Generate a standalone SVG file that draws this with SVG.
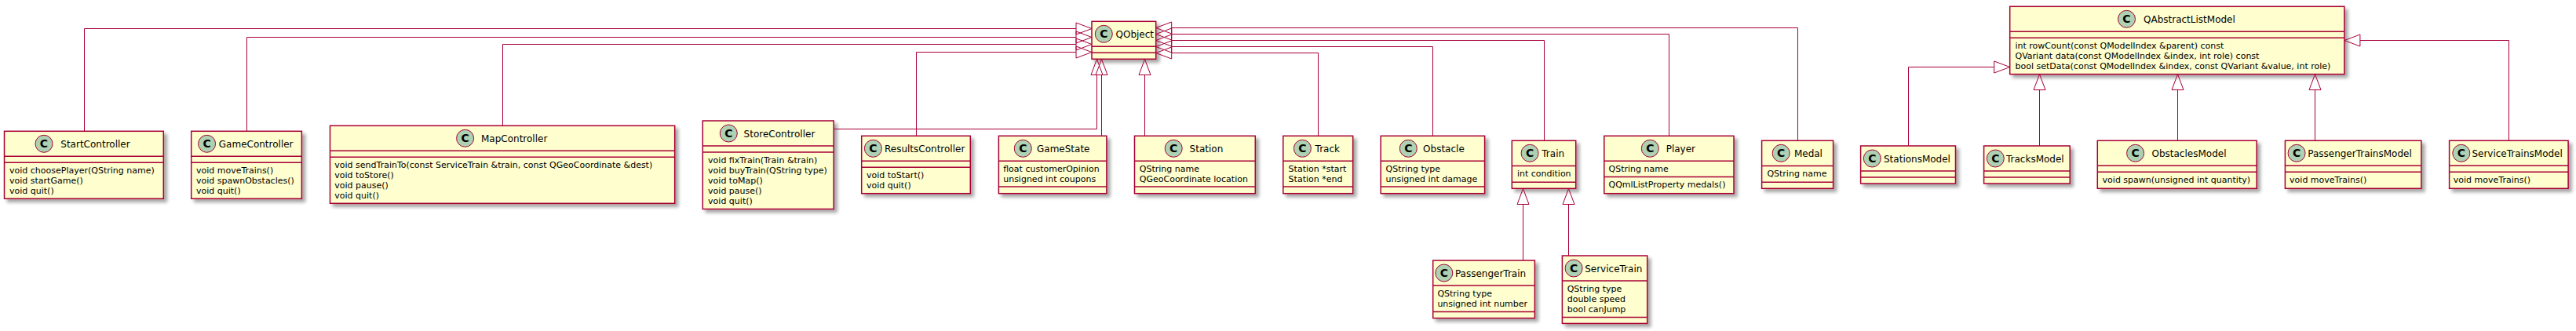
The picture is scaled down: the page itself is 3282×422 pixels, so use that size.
<svg xmlns="http://www.w3.org/2000/svg" width="3282" height="422" viewBox="0 0 3282 422">
<defs>
<filter id="sh" x="-10%" y="-10%" width="130%" height="140%">
<feGaussianBlur in="SourceAlpha" stdDeviation="2"/>
<feOffset dx="4" dy="4" result="b"/>
<feComponentTransfer><feFuncA type="linear" slope="0.35"/></feComponentTransfer>
<feMerge><feMergeNode/><feMergeNode in="SourceGraphic"/></feMerge>
</filter>
</defs>
<style>
.box{fill:#FEFECE;stroke:#A80036;stroke-width:1.5;filter:url(#sh)}
.dv{stroke:#A80036;stroke-width:1.5}
.ci{fill:#ADD1B2;stroke:#A80036;stroke-width:1}
.cl{font-family:'DejaVu Sans',sans-serif;font-weight:bold;font-size:14px;text-anchor:middle;fill:#000}
.t{font-family:'DejaVu Sans',sans-serif;font-size:12px;fill:#000}
.m{font-family:'DejaVu Sans',sans-serif;font-size:11px;fill:#000}
.ln{fill:none;stroke:#A80036;stroke-width:1}
.hd{fill:none;stroke:#A80036;stroke-width:1}
</style>
<rect width="3282" height="422" fill="#FFFFFF"/>

<g id="StartController">
<rect class="box" x="5.5" y="167.3" width="202.8" height="86"/>
<line class="dv" x1="5.5" y1="199.3" x2="208.3" y2="199.3"/>
<line class="dv" x1="5.5" y1="207.3" x2="208.3" y2="207.3"/>
<circle class="ci" cx="56" cy="183.3" r="11"/>
<text class="cl" x="56" y="188.3">C</text>
<text class="t" x="77.3" y="188.3">StartController</text>
<text class="m" x="12" y="220.9">void choosePlayer(QString name)</text>
<text class="m" x="12" y="233.9">void startGame()</text>
<text class="m" x="12" y="246.9">void quit()</text>
</g>

<g id="GameController">
<rect class="box" x="243.7" y="167.3" width="140.7" height="86"/>
<line class="dv" x1="243.7" y1="199.3" x2="384.4" y2="199.3"/>
<line class="dv" x1="243.7" y1="207.3" x2="384.4" y2="207.3"/>
<circle class="ci" cx="263.6" cy="183.3" r="11"/>
<text class="cl" x="263.6" y="188.3">C</text>
<text class="t" x="278.8" y="188.3">GameController</text>
<text class="m" x="250" y="220.9">void moveTrains()</text>
<text class="m" x="250" y="233.9">void spawnObstacles()</text>
<text class="m" x="250" y="246.9">void quit()</text>
</g>

<g id="MapController">
<rect class="box" x="420.5" y="160.3" width="439.2" height="99"/>
<line class="dv" x1="420.5" y1="192.3" x2="859.7" y2="192.3"/>
<line class="dv" x1="420.5" y1="200.3" x2="859.7" y2="200.3"/>
<circle class="ci" cx="592.6" cy="176.3" r="11"/>
<text class="cl" x="592.6" y="181.3">C</text>
<text class="t" x="613" y="181.3">MapController</text>
<text class="m" x="426.3" y="213.9">void sendTrainTo(const ServiceTrain &amp;train, const QGeoCoordinate &amp;dest)</text>
<text class="m" x="426.3" y="226.9">void toStore()</text>
<text class="m" x="426.3" y="239.9">void pause()</text>
<text class="m" x="426.3" y="252.9">void quit()</text>
</g>

<g id="StoreController">
<rect class="box" x="895.3" y="154" width="166.9" height="112.5"/>
<line class="dv" x1="895.3" y1="186" x2="1062.2" y2="186"/>
<line class="dv" x1="895.3" y1="194" x2="1062.2" y2="194"/>
<circle class="ci" cx="928.3" cy="170" r="11"/>
<text class="cl" x="928.3" y="175">C</text>
<text class="t" x="947.6" y="175">StoreController</text>
<text class="m" x="902.1" y="207.6">void fixTrain(Train &amp;train)</text>
<text class="m" x="902.1" y="220.6">void buyTrain(QString type)</text>
<text class="m" x="902.1" y="233.6">void toMap()</text>
<text class="m" x="902.1" y="246.6">void pause()</text>
<text class="m" x="902.1" y="259.6">void quit()</text>
</g>

<g id="ResultsController">
<rect class="box" x="1097.7" y="173.3" width="138.6" height="73.4"/>
<line class="dv" x1="1097.7" y1="205.3" x2="1236.3" y2="205.3"/>
<line class="dv" x1="1097.7" y1="213.3" x2="1236.3" y2="213.3"/>
<circle class="ci" cx="1112.4" cy="189.3" r="11"/>
<text class="cl" x="1112.4" y="194.3">C</text>
<text class="t" x="1127" y="194.3">ResultsController</text>
<text class="m" x="1104" y="226.9">void toStart()</text>
<text class="m" x="1104" y="239.9">void quit()</text>
</g>

<g id="GameState">
<rect class="box" x="1272.4" y="173.3" width="137.5" height="73.4"/>
<line class="dv" x1="1272.4" y1="205.3" x2="1409.9" y2="205.3"/>
<line class="dv" x1="1272.4" y1="237.9" x2="1409.9" y2="237.9"/>
<circle class="ci" cx="1303.3" cy="189.3" r="11"/>
<text class="cl" x="1303.3" y="194.3">C</text>
<text class="t" x="1321" y="194.3">GameState</text>
<text class="m" x="1278.2" y="218.9">float customerOpinion</text>
<text class="m" x="1278.2" y="231.9">unsigned int coupons</text>
</g>

<g id="Station">
<rect class="box" x="1445.5" y="173.3" width="153.8" height="73.4"/>
<line class="dv" x1="1445.5" y1="205.3" x2="1599.3" y2="205.3"/>
<line class="dv" x1="1445.5" y1="237.9" x2="1599.3" y2="237.9"/>
<circle class="ci" cx="1495.2" cy="189.3" r="11"/>
<text class="cl" x="1495.2" y="194.3">C</text>
<text class="t" x="1515.6" y="194.3">Station</text>
<text class="m" x="1451.8" y="218.9">QString name</text>
<text class="m" x="1451.8" y="231.9">QGeoCoordinate location</text>
</g>

<g id="Track">
<rect class="box" x="1634.8" y="173.3" width="88.9" height="73.4"/>
<line class="dv" x1="1634.8" y1="205.3" x2="1723.7" y2="205.3"/>
<line class="dv" x1="1634.8" y1="237.9" x2="1723.7" y2="237.9"/>
<circle class="ci" cx="1659.4" cy="189.3" r="11"/>
<text class="cl" x="1659.4" y="194.3">C</text>
<text class="t" x="1675.6" y="194.3">Track</text>
<text class="m" x="1641.6" y="218.9">Station *start</text>
<text class="m" x="1641.6" y="231.9">Station *end</text>
</g>

<g id="Obstacle">
<rect class="box" x="1759.2" y="173.3" width="132.4" height="73.4"/>
<line class="dv" x1="1759.2" y1="205.3" x2="1891.6" y2="205.3"/>
<line class="dv" x1="1759.2" y1="237.9" x2="1891.6" y2="237.9"/>
<circle class="ci" cx="1794.3" cy="189.3" r="11"/>
<text class="cl" x="1794.3" y="194.3">C</text>
<text class="t" x="1813.1" y="194.3">Obstacle</text>
<text class="m" x="1765.5" y="218.9">QString type</text>
<text class="m" x="1765.5" y="231.9">unsigned int damage</text>
</g>

<g id="Train">
<rect class="box" x="1926.3" y="179.3" width="81.4" height="61"/>
<line class="dv" x1="1926.3" y1="211.6" x2="2007.7" y2="211.6"/>
<line class="dv" x1="1926.3" y1="232.3" x2="2007.7" y2="232.3"/>
<circle class="ci" cx="1949.1" cy="195.3" r="11"/>
<text class="cl" x="1949.1" y="200.3">C</text>
<text class="t" x="1964.3" y="200.3">Train</text>
<text class="m" x="1932.9" y="225.3">int condition</text>
</g>

<g id="Player">
<rect class="box" x="2043.8" y="173.3" width="165.2" height="73.4"/>
<line class="dv" x1="2043.8" y1="205.3" x2="2209" y2="205.3"/>
<line class="dv" x1="2043.8" y1="225.6" x2="2209" y2="225.6"/>
<circle class="ci" cx="2102.3" cy="189.3" r="11"/>
<text class="cl" x="2102.3" y="194.3">C</text>
<text class="t" x="2122.7" y="194.3">Player</text>
<text class="m" x="2049.5" y="218.9">QString name</text>
<text class="m" x="2049.5" y="239.2">QQmlListProperty medals()</text>
</g>

<g id="Medal">
<rect class="box" x="2244.6" y="179.3" width="91" height="61"/>
<line class="dv" x1="2244.6" y1="211.6" x2="2335.6" y2="211.6"/>
<line class="dv" x1="2244.6" y1="232.3" x2="2335.6" y2="232.3"/>
<circle class="ci" cx="2269.2" cy="195.3" r="11"/>
<text class="cl" x="2269.2" y="200.3">C</text>
<text class="t" x="2285.9" y="200.3">Medal</text>
<text class="m" x="2251.4" y="225.3">QString name</text>
</g>

<g id="PassengerTrain">
<rect class="box" x="1825.7" y="332" width="129.7" height="73.6"/>
<line class="dv" x1="1825.7" y1="364" x2="1955.4" y2="364"/>
<line class="dv" x1="1825.7" y1="397.4" x2="1955.4" y2="397.4"/>
<circle class="ci" cx="1839.8" cy="348" r="11"/>
<text class="cl" x="1839.8" y="353">C</text>
<text class="t" x="1853.9" y="353">PassengerTrain</text>
<text class="m" x="1831.4" y="377.6">QString type</text>
<text class="m" x="1831.4" y="390.6">unsigned int number</text>
</g>

<g id="ServiceTrain">
<rect class="box" x="1990.4" y="326" width="108.3" height="86.4"/>
<line class="dv" x1="1990.4" y1="358" x2="2098.7" y2="358"/>
<line class="dv" x1="1990.4" y1="404.4" x2="2098.7" y2="404.4"/>
<circle class="ci" cx="2005.1" cy="342" r="11"/>
<text class="cl" x="2005.1" y="347">C</text>
<text class="t" x="2019.2" y="347">ServiceTrain</text>
<text class="m" x="1996.7" y="371.6">QString type</text>
<text class="m" x="1996.7" y="384.6">double speed</text>
<text class="m" x="1996.7" y="397.6">bool canJump</text>
</g>

<g id="QObject">
<rect class="box" x="1391" y="27.3" width="81.7" height="48"/>
<line class="dv" x1="1391" y1="59.3" x2="1472.7" y2="59.3"/>
<line class="dv" x1="1391" y1="67.3" x2="1472.7" y2="67.3"/>
<circle class="ci" cx="1406.3" cy="43.3" r="11"/>
<text class="cl" x="1406.3" y="48.3">C</text>
<text class="t" x="1421.5" y="48.3">QObject</text>
</g>

<g id="QAbstractListModel">
<rect class="box" x="2560.7" y="8.3" width="426.2" height="86.3"/>
<line class="dv" x1="2560.7" y1="40.3" x2="2986.9" y2="40.3"/>
<line class="dv" x1="2560.7" y1="48.3" x2="2986.9" y2="48.3"/>
<circle class="ci" cx="2709.5" cy="24.3" r="11"/>
<text class="cl" x="2709.5" y="29.3">C</text>
<text class="t" x="2731" y="29.3">QAbstractListModel</text>
<text class="m" x="2567.5" y="61.9">int rowCount(const QModelIndex &amp;parent) const</text>
<text class="m" x="2567.5" y="74.9">QVariant data(const QModelIndex &amp;index, int role) const</text>
<text class="m" x="2567.5" y="87.9">bool setData(const QModelIndex &amp;index, const QVariant &amp;value, int role)</text>
</g>

<g id="StationsModel">
<rect class="box" x="2370.6" y="186" width="120.9" height="48"/>
<line class="dv" x1="2370.6" y1="218" x2="2491.5" y2="218"/>
<line class="dv" x1="2370.6" y1="226" x2="2491.5" y2="226"/>
<circle class="ci" cx="2385.3" cy="202" r="11"/>
<text class="cl" x="2385.3" y="207">C</text>
<text class="t" x="2400" y="207">StationsModel</text>
</g>

<g id="TracksModel">
<rect class="box" x="2527.6" y="186" width="109.6" height="48"/>
<line class="dv" x1="2527.6" y1="218" x2="2637.2" y2="218"/>
<line class="dv" x1="2527.6" y1="226" x2="2637.2" y2="226"/>
<circle class="ci" cx="2542.3" cy="202" r="11"/>
<text class="cl" x="2542.3" y="207">C</text>
<text class="t" x="2556" y="207">TracksModel</text>
</g>

<g id="ObstaclesModel">
<rect class="box" x="2672.3" y="179.3" width="202.9" height="61"/>
<line class="dv" x1="2672.3" y1="211.3" x2="2875.2" y2="211.3"/>
<line class="dv" x1="2672.3" y1="219.3" x2="2875.2" y2="219.3"/>
<circle class="ci" cx="2720.6" cy="195.3" r="11"/>
<text class="cl" x="2720.6" y="200.3">C</text>
<text class="t" x="2741.5" y="200.3">ObstaclesModel</text>
<text class="m" x="2678.6" y="232.9">void spawn(unsigned int quantity)</text>
</g>

<g id="PassengerTrainsModel">
<rect class="box" x="2911.4" y="179.3" width="173.5" height="61"/>
<line class="dv" x1="2911.4" y1="211.3" x2="3084.9" y2="211.3"/>
<line class="dv" x1="2911.4" y1="219.3" x2="3084.9" y2="219.3"/>
<circle class="ci" cx="2926.1" cy="195.3" r="11"/>
<text class="cl" x="2926.1" y="200.3">C</text>
<text class="t" x="2940.2" y="200.3">PassengerTrainsModel</text>
<text class="m" x="2917.1" y="232.9">void moveTrains()</text>
</g>

<g id="ServiceTrainsModel">
<rect class="box" x="3120.6" y="179.3" width="151.5" height="61"/>
<line class="dv" x1="3120.6" y1="211.3" x2="3272.1" y2="211.3"/>
<line class="dv" x1="3120.6" y1="219.3" x2="3272.1" y2="219.3"/>
<circle class="ci" cx="3135.8" cy="195.3" r="11"/>
<text class="cl" x="3135.8" y="200.3">C</text>
<text class="t" x="3149.4" y="200.3">ServiceTrainsModel</text>
<text class="m" x="3125.8" y="232.9">void moveTrains()</text>
</g>

<g id="connectors">
<path class="ln" d="M107.5,167.3 V36.5 H1371"/>
<polygon class="hd" points="1391,36.5 1371,29 1371,44"/>
<path class="ln" d="M314.5,167.3 V47.5 H1371"/>
<polygon class="hd" points="1391,47.5 1371,40 1371,55"/>
<path class="ln" d="M640.5,160.3 V56.5 H1371"/>
<polygon class="hd" points="1391,56.5 1371,49 1371,64"/>
<path class="ln" d="M1167.5,173.3 V66.5 H1371"/>
<polygon class="hd" points="1391,66.5 1371,59 1371,74"/>
<path class="ln" d="M1062.2,164.5 H1397.5 V95.5"/>
<polygon class="hd" points="1397.5,75.5 1390,95.5 1405,95.5"/>
<path class="ln" d="M1403.5,173.3 V95.5"/>
<polygon class="hd" points="1403.5,75.5 1396,95.5 1411,95.5"/>
<path class="ln" d="M1458.5,173.3 V95.5"/>
<polygon class="hd" points="1458.5,75.5 1451,95.5 1466,95.5"/>
<path class="ln" d="M1679.5,173.3 V67.5 H1492.7"/>
<polygon class="hd" points="1472.7,67.5 1492.7,60 1492.7,75"/>
<path class="ln" d="M1825.5,173.3 V59.5 H1492.7"/>
<polygon class="hd" points="1472.7,59.5 1492.7,52 1492.7,67"/>
<path class="ln" d="M1967.5,179.3 V51.5 H1492.7"/>
<polygon class="hd" points="1472.7,51.5 1492.7,44 1492.7,59"/>
<path class="ln" d="M2126.5,173.3 V43.5 H1492.7"/>
<polygon class="hd" points="1472.7,43.5 1492.7,36 1492.7,51"/>
<path class="ln" d="M2290.5,179.3 V35.5 H1492.7"/>
<polygon class="hd" points="1472.7,35.5 1492.7,28 1492.7,43"/>
<path class="ln" d="M1940.5,332 V260.5"/>
<polygon class="hd" points="1940.5,240.5 1933,260.5 1948,260.5"/>
<path class="ln" d="M1998.5,326 V260.5"/>
<polygon class="hd" points="1998.5,240.5 1991,260.5 2006,260.5"/>
<path class="ln" d="M2431.5,186 V85.5 H2540.7"/>
<polygon class="hd" points="2560.7,85.5 2540.7,78 2540.7,93"/>
<path class="ln" d="M2598.5,186 V114.6"/>
<polygon class="hd" points="2598.5,94.6 2591,114.6 2606,114.6"/>
<path class="ln" d="M2774.5,179.3 V114.6"/>
<polygon class="hd" points="2774.5,94.6 2767,114.6 2782,114.6"/>
<path class="ln" d="M2949.5,179.3 V114.6"/>
<polygon class="hd" points="2949.5,94.6 2942,114.6 2957,114.6"/>
<path class="ln" d="M3196.5,179.3 V51.5 H3006.9"/>
<polygon class="hd" points="2986.9,51.5 3006.9,44 3006.9,59"/>
</g>
</svg>
